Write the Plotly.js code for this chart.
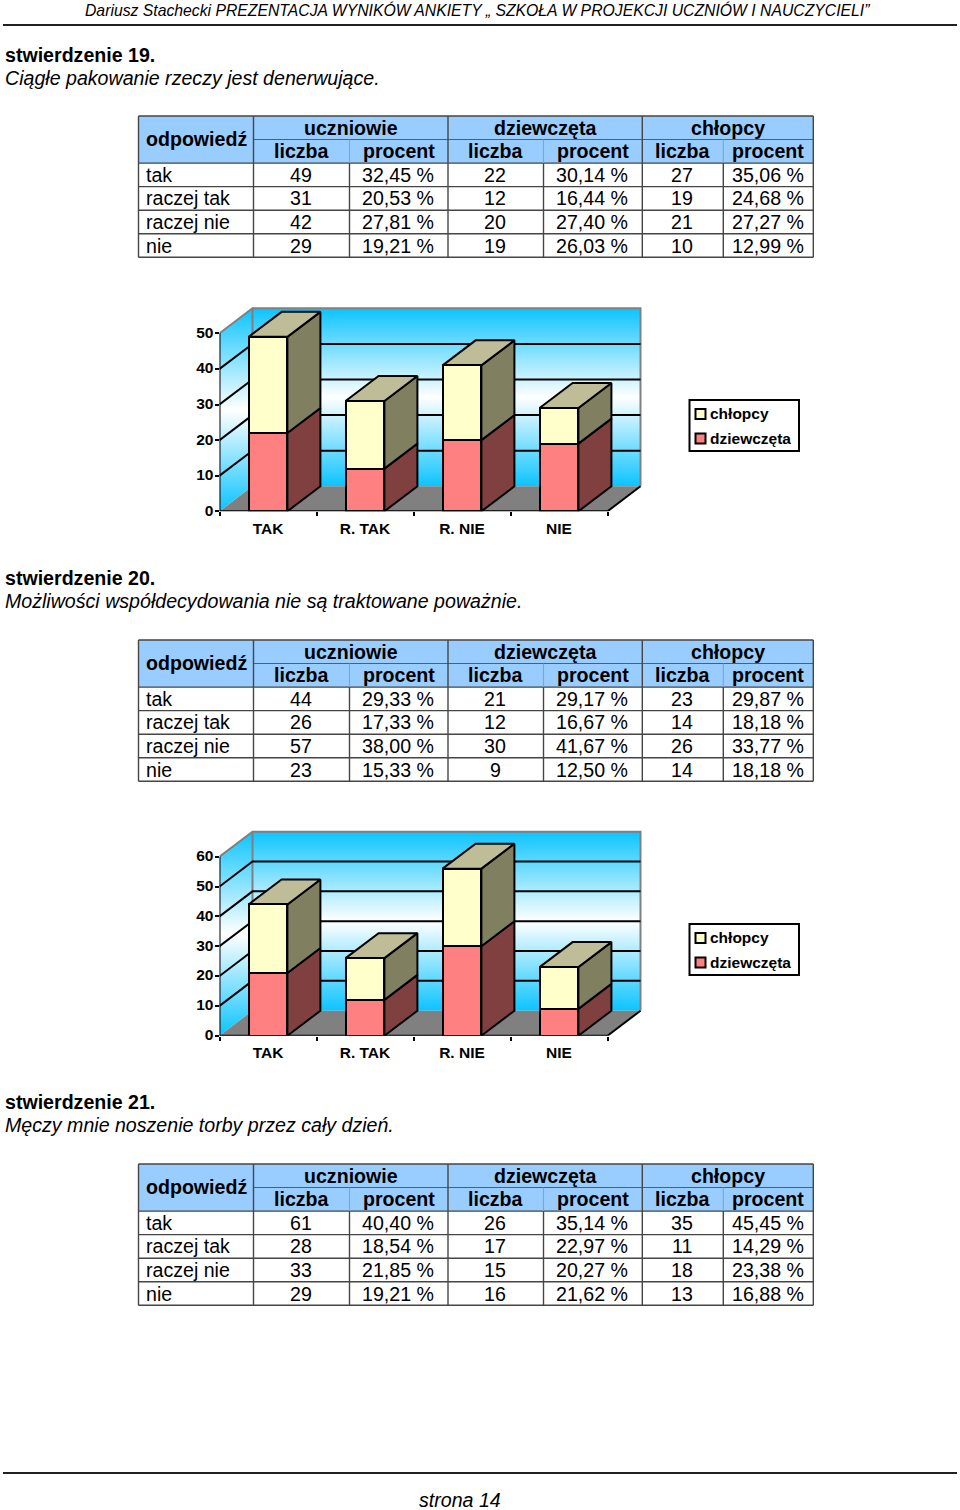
<!DOCTYPE html>
<html><head><meta charset="utf-8">
<script src="https://cdn.plot.ly/plotly-3.0.1.min.js"></script>
<style>html,body{margin:0;padding:0;background:#fff}</style></head>
<body><div id="chart" style="width:960px;height:1510px"></div>
<script>
// ---- data ----
const pageHeader = "Dariusz Stachecki PREZENTACJA WYNIKÓW ANKIETY „ SZKOŁA W PROJEKCJI UCZNIÓW I NAUCZYCIELI”";
const pageFooter = "strona 14";
const answers = ["tak", "raczej tak", "raczej nie", "nie"];
const chartCategories = ["TAK", "R. TAK", "R. NIE", "NIE"];
const groupHeaders = ["uczniowie", "dziewczęta", "chłopcy"];
const subHeaders = ["liczba", "procent", "liczba", "procent", "liczba", "procent"];
const firstHeader = "odpowiedź";
const legendBoys = "chłopcy";
const legendGirls = "dziewczęta";

const title19 = "stwierdzenie 19.";
const text19 = "Ciągłe pakowanie rzeczy jest denerwujące.";
const all19 = [49, 31, 42, 29];
const allPct19 = ["32,45 %", "20,53 %", "27,81 %", "19,21 %"];
const girls19 = [22, 12, 20, 19];
const girlsPct19 = ["30,14 %", "16,44 %", "27,40 %", "26,03 %"];
const boys19 = [27, 19, 21, 10];
const boysPct19 = ["35,06 %", "24,68 %", "27,27 %", "12,99 %"];
const ticks19 = [0, 10, 20, 30, 40, 50];

const title20 = "stwierdzenie 20.";
const text20 = "Możliwości współdecydowania nie są traktowane poważnie.";
const all20 = [44, 26, 57, 23];
const allPct20 = ["29,33 %", "17,33 %", "38,00 %", "15,33 %"];
const girls20 = [21, 12, 30, 9];
const girlsPct20 = ["29,17 %", "16,67 %", "41,67 %", "12,50 %"];
const boys20 = [23, 14, 26, 14];
const boysPct20 = ["29,87 %", "18,18 %", "33,77 %", "18,18 %"];
const ticks20 = [0, 10, 20, 30, 40, 50, 60];

const title21 = "stwierdzenie 21.";
const text21 = "Męczy mnie noszenie torby przez cały dzień.";
const all21 = [61, 28, 33, 29];
const allPct21 = ["40,40 %", "18,54 %", "21,85 %", "19,21 %"];
const girls21 = [26, 17, 15, 16];
const girlsPct21 = ["35,14 %", "22,97 %", "20,27 %", "21,62 %"];
const boys21 = [35, 11, 18, 13];
const boysPct21 = ["45,45 %", "14,29 %", "23,38 %", "16,88 %"];

// ---- style ----
const FONT = "'Liberation Sans', Arial, sans-serif";
const PINK = "#FF8080", CREAM = "#FFFFCC", DARKPINK = "#804040", DARKCREAM = "#808060", TOPC = "#BFBD98";
const GREY = "#808080", SKY = "#0CC4FF", HEAD = "#99CCFF", BORDER = "#454545";
const W = 960, H = 1510;
const fx = p => p / W, fy = p => 1 - p / H;

const traces = [], shapes = [], annotations = [];
const layout = {
  width: W, height: H, margin: {l: 0, r: 0, t: 0, b: 0}, paper_bgcolor: "#fff", plot_bgcolor: "rgba(0,0,0,0)",
  showlegend: false, barmode: "stack", bargap: 0.6, hovermode: false, shapes, annotations,
  font: {family: FONT, color: "#000"}
};

function label(px, py, text, o) {
  o = o || {};
  annotations.push({xref: "paper", yref: "paper", x: fx(px), y: fy(py), text: String(text), showarrow: false,
    xanchor: o.anchor || "center", yanchor: "middle", borderpad: 0,
    font: {family: FONT, size: o.size || 19.6, color: "#000"}});
}
function hline(x0, x1, y, color, width) {
  shapes.push({type: "line", xref: "paper", yref: "paper", x0: fx(x0), x1: fx(x1), y0: fy(y), y1: fy(y),
    line: {color, width}, layer: "above"});
}
function vline(x, y0, y1, color, width) {
  shapes.push({type: "line", xref: "paper", yref: "paper", x0: fx(x), x1: fx(x), y0: fy(y0), y1: fy(y1),
    line: {color, width}, layer: "above"});
}
function box(x0, x1, y0, y1, fill, line, width) {
  shapes.push({type: "rect", xref: "paper", yref: "paper", x0: fx(x0), x1: fx(x1), y0: fy(y0), y1: fy(y1),
    fillcolor: fill, line: {color: line, width: width}, layer: "below"});
}

const colX = [138.5, 253.5, 349.5, 448, 543.5, 642.3, 723.3, 813.3];
function addTable(top, cols) {
  const rowH = 23.55;
  const y = i => top + i * rowH;
  box(colX[0], colX[7], y(0), y(2), HEAD, HEAD, 0);
  // header labels
  label((colX[0] + colX[1]) / 2 + 0.2, y(1) - 0.5, "<b>" + firstHeader + "</b>");
  [[1, 3], [3, 5], [5, 7]].forEach((s, i) =>
    label((colX[s[0]] + colX[s[1]]) / 2, y(0) + rowH / 2, "<b>" + groupHeaders[i] + "</b>"));
  subHeaders.forEach((t, i) => label((colX[i + 1] + colX[i + 2]) / 2 + (i % 2 ? 0 : 0.5), y(1) + rowH / 2, "<b>" + t + "</b>"));
  // body
  answers.forEach((a, r) => {
    const cy = y(r + 2) + rowH / 2;
    label(colX[0] + 6.2, cy, a, {anchor: "left"});
    cols.forEach((c, i) => label((colX[i + 1] + colX[i + 2]) / 2 - 0.6, cy, c[r]));
  });
  // rules
  [2, 3, 4, 5].forEach(i => hline(colX[0], colX[7], y(i), BORDER, 1.4));
  hline(colX[1], colX[7], y(1), "#4a5f78", 1.1);
  [0, 6].forEach(i => hline(colX[0], colX[7], y(i), BORDER, 1.6));
  [0, 1, 3, 5, 7].forEach(i => vline(colX[i], y(0), y(6), BORDER, 1.4));
  [2, 4, 6].forEach(i => {
    vline(colX[i], y(1), y(2), "#7ea6cc", 1.1);
    vline(colX[i], y(2), y(6), BORDER, 1.4);
  });
}

let axisNo = 1;
function addChart(baseline, topFront, ticks, girls, boys, legendTop) {
  const b = axisNo, o = axisNo + 1; axisNo += 2;
  const xb = "x" + (b === 1 ? "" : b), yb = "y" + (b === 1 ? "" : b), xo = "x" + o, yo = "y" + o;
  const maxV = ticks[ticks.length - 1];
  const left = 219.5, catW = 97, depthPxX = 33, depthPxY = 25;
  const ppu = (baseline - topFront) / maxV;
  const dx = depthPxX / catW, dy = depthPxY / ppu;
  const x0 = -0.5, x1 = chartCategories.length - 0.5;
  const xr = [x0, x1 + dx + 0.03], yr = [0, maxV + dy + 1.5];
  const xdom = [fx(left), fx(left + (xr[1] - xr[0]) * catW)];
  const ydom = [fy(baseline), fy(baseline - yr[1] * ppu)];
  const hidden = {visible: false, fixedrange: true};

  layout["xaxis" + (b === 1 ? "" : b)] = Object.assign({range: xr, domain: xdom, anchor: yb, type: "linear"}, hidden);
  layout["yaxis" + (b === 1 ? "" : b)] = Object.assign({range: yr, domain: ydom, anchor: xb, type: "linear"}, hidden);
  layout["xaxis" + o] = {type: "category", range: xr, domain: xdom, anchor: yo, overlaying: xb, tickson: "boundaries",
    ticks: "outside", ticklen: 4, tickwidth: 2, tickcolor: "#000", showgrid: false, zeroline: false, showline: false,
    categoryorder: "array", categoryarray: chartCategories, ticklabelstandoff: 6,
    tickfont: {family: FONT, size: 15.5, weight: 700, color: "#000"}, fixedrange: true};
  layout["yaxis" + o] = {type: "linear", range: yr, domain: ydom, anchor: xo, overlaying: yb, tickmode: "array", tickvals: ticks,
    ticktext: ticks.map(String), ticks: "outside", ticklen: 4, tickwidth: 2, tickcolor: "#000", showgrid: false, zeroline: false,
    showline: false, ticklabelstandoff: -2, ticklabelshift: -1, tickfont: {family: FONT, size: 15.5, weight: 700, color: "#000"}, fixedrange: true};

  const base = {type: "scatter", xaxis: xb, yaxis: yb, mode: "lines", cliponaxis: false, hoverinfo: "skip"};
  const grad = {type: "vertical", colorscale: [[0, SKY], [0.5, "#FFFFFF"], [1, SKY]]};
  // back wall, side wall, floor
  traces.push(Object.assign({}, base, {x: [x0 + dx, x1 + dx, x1 + dx, x0 + dx, x0 + dx], y: [dy, dy, maxV + dy, maxV + dy, dy],
    fill: "toself", fillgradient: grad, line: {width: 0}}));
  traces.push(Object.assign({}, base, {x: [x0, x0 + dx, x0 + dx, x0, x0], y: [0, dy, maxV + dy, maxV, 0],
    fill: "toself", fillgradient: grad, line: {width: 0}}));
  traces.push(Object.assign({}, base, {x: [x0, x1, x1 + dx, x0 + dx, x0], y: [0, 0, dy, dy, 0],
    fill: "toself", fillcolor: GREY, line: {width: 0}}));
  // grey frame
  traces.push(Object.assign({}, base, {x: [x0, x0 + dx, x1 + dx, x1 + dx, null, x0 + dx, x0 + dx],
    y: [maxV, maxV + dy, maxV + dy, dy, null, maxV + dy, dy], line: {color: GREY, width: 2}}));
  // gridlines
  const gx = [], gy = [];
  ticks.slice(1, -1).forEach(t => { gx.push(x0, x0 + dx, x1 + dx, null); gy.push(t, t + dy, t + dy, null); });
  traces.push(Object.assign({}, base, {x: gx, y: gy, line: {color: "#000", width: 2}}));
  // axes
  traces.push(Object.assign({}, base, {x: [x0, x0, x1, x1 + dx], y: [maxV, 0, 0, dy], line: {color: "#000", width: 2}}));
  // 3-D faces of the bars
  const half = 0.2;
  const sideG = {x: [], y: []}, sideB = {x: [], y: []}, topF = {x: [], y: []};
  girls.forEach((g, i) => {
    const s = g + boys[i], r = i + half, l = i - half;
    sideG.x.push(r, r + dx, r + dx, r, r, null); sideG.y.push(0, dy, g + dy, g, 0, null);
    sideB.x.push(r, r + dx, r + dx, r, r, null); sideB.y.push(g, g + dy, s + dy, s, g, null);
    topF.x.push(l, r, r + dx, l + dx, l, null); topF.y.push(s, s, s + dy, s + dy, s, null);
  });
  [[sideG, DARKPINK], [sideB, DARKCREAM], [topF, TOPC]].forEach(f =>
    traces.push(Object.assign({}, base, {x: f[0].x, y: f[0].y, fill: "toself", fillcolor: f[1],
      line: {color: "#000", width: 2, join: "miter"}})));
  // front faces
  [[legendGirls, girls, PINK], [legendBoys, boys, CREAM]].forEach(s =>
    traces.push({type: "bar", name: s[0], x: chartCategories, y: s[1], xaxis: xo, yaxis: yo, cliponaxis: false,
      hoverinfo: "skip", marker: {color: s[2], line: {color: "#000", width: 2}}}));
  // legend
  const T = legendTop;
  box(689.5, 799, T, T + 51, "#fff", "#000", 2);
  box(695.5, 705.5, T + 9, T + 19, CREAM, "#000", 2);
  box(695.5, 705.5, T + 33.5, T + 43.5, PINK, "#000", 2);
  label(708.5, T + 13.2, "<b>" + legendBoys + "</b>", {anchor: "left", size: 15.5});
  label(708.5, T + 38.2, "<b>" + legendGirls + "</b>", {anchor: "left", size: 15.5});
}

// ---- page ----
label(84, 10, "<i>" + pageHeader + "</i>", {anchor: "left", size: 15.76});
shapes.push({type: "line", xref: "paper", yref: "paper", x0: fx(3), x1: fx(957), y0: fy(25), y1: fy(25), line: {color: "#222", width: 2}});
shapes.push({type: "line", xref: "paper", yref: "paper", x0: fx(3), x1: fx(957), y0: fy(1473), y1: fy(1473), line: {color: "#222", width: 2}});
label(417.5, 1499.5, "<i>" + pageFooter + "</i>", {anchor: "left"});

function heading(y, title, text) {
  label(3.5, y, "<b>" + title + "</b>", {anchor: "left"});
  label(3.5, y + 22.7, "<i>" + text + "</i>", {anchor: "left"});
}
heading(55, title19, text19);
addTable(116, [all19, allPct19, girls19, girlsPct19, boys19, boysPct19]);
addChart(511.3, 333.3, ticks19, girls19, boys19, 400);

heading(578, title20, text20);
addTable(640, [all20, allPct20, girls20, girlsPct20, boys20, boysPct20]);
addChart(1035.7, 856.7, ticks20, girls20, boys20, 924);

heading(1102, title21, text21);
addTable(1164, [all21, allPct21, girls21, girlsPct21, boys21, boysPct21]);

Plotly.newPlot("chart", traces, layout, {displayModeBar: false, staticPlot: true});
</script></body></html>
